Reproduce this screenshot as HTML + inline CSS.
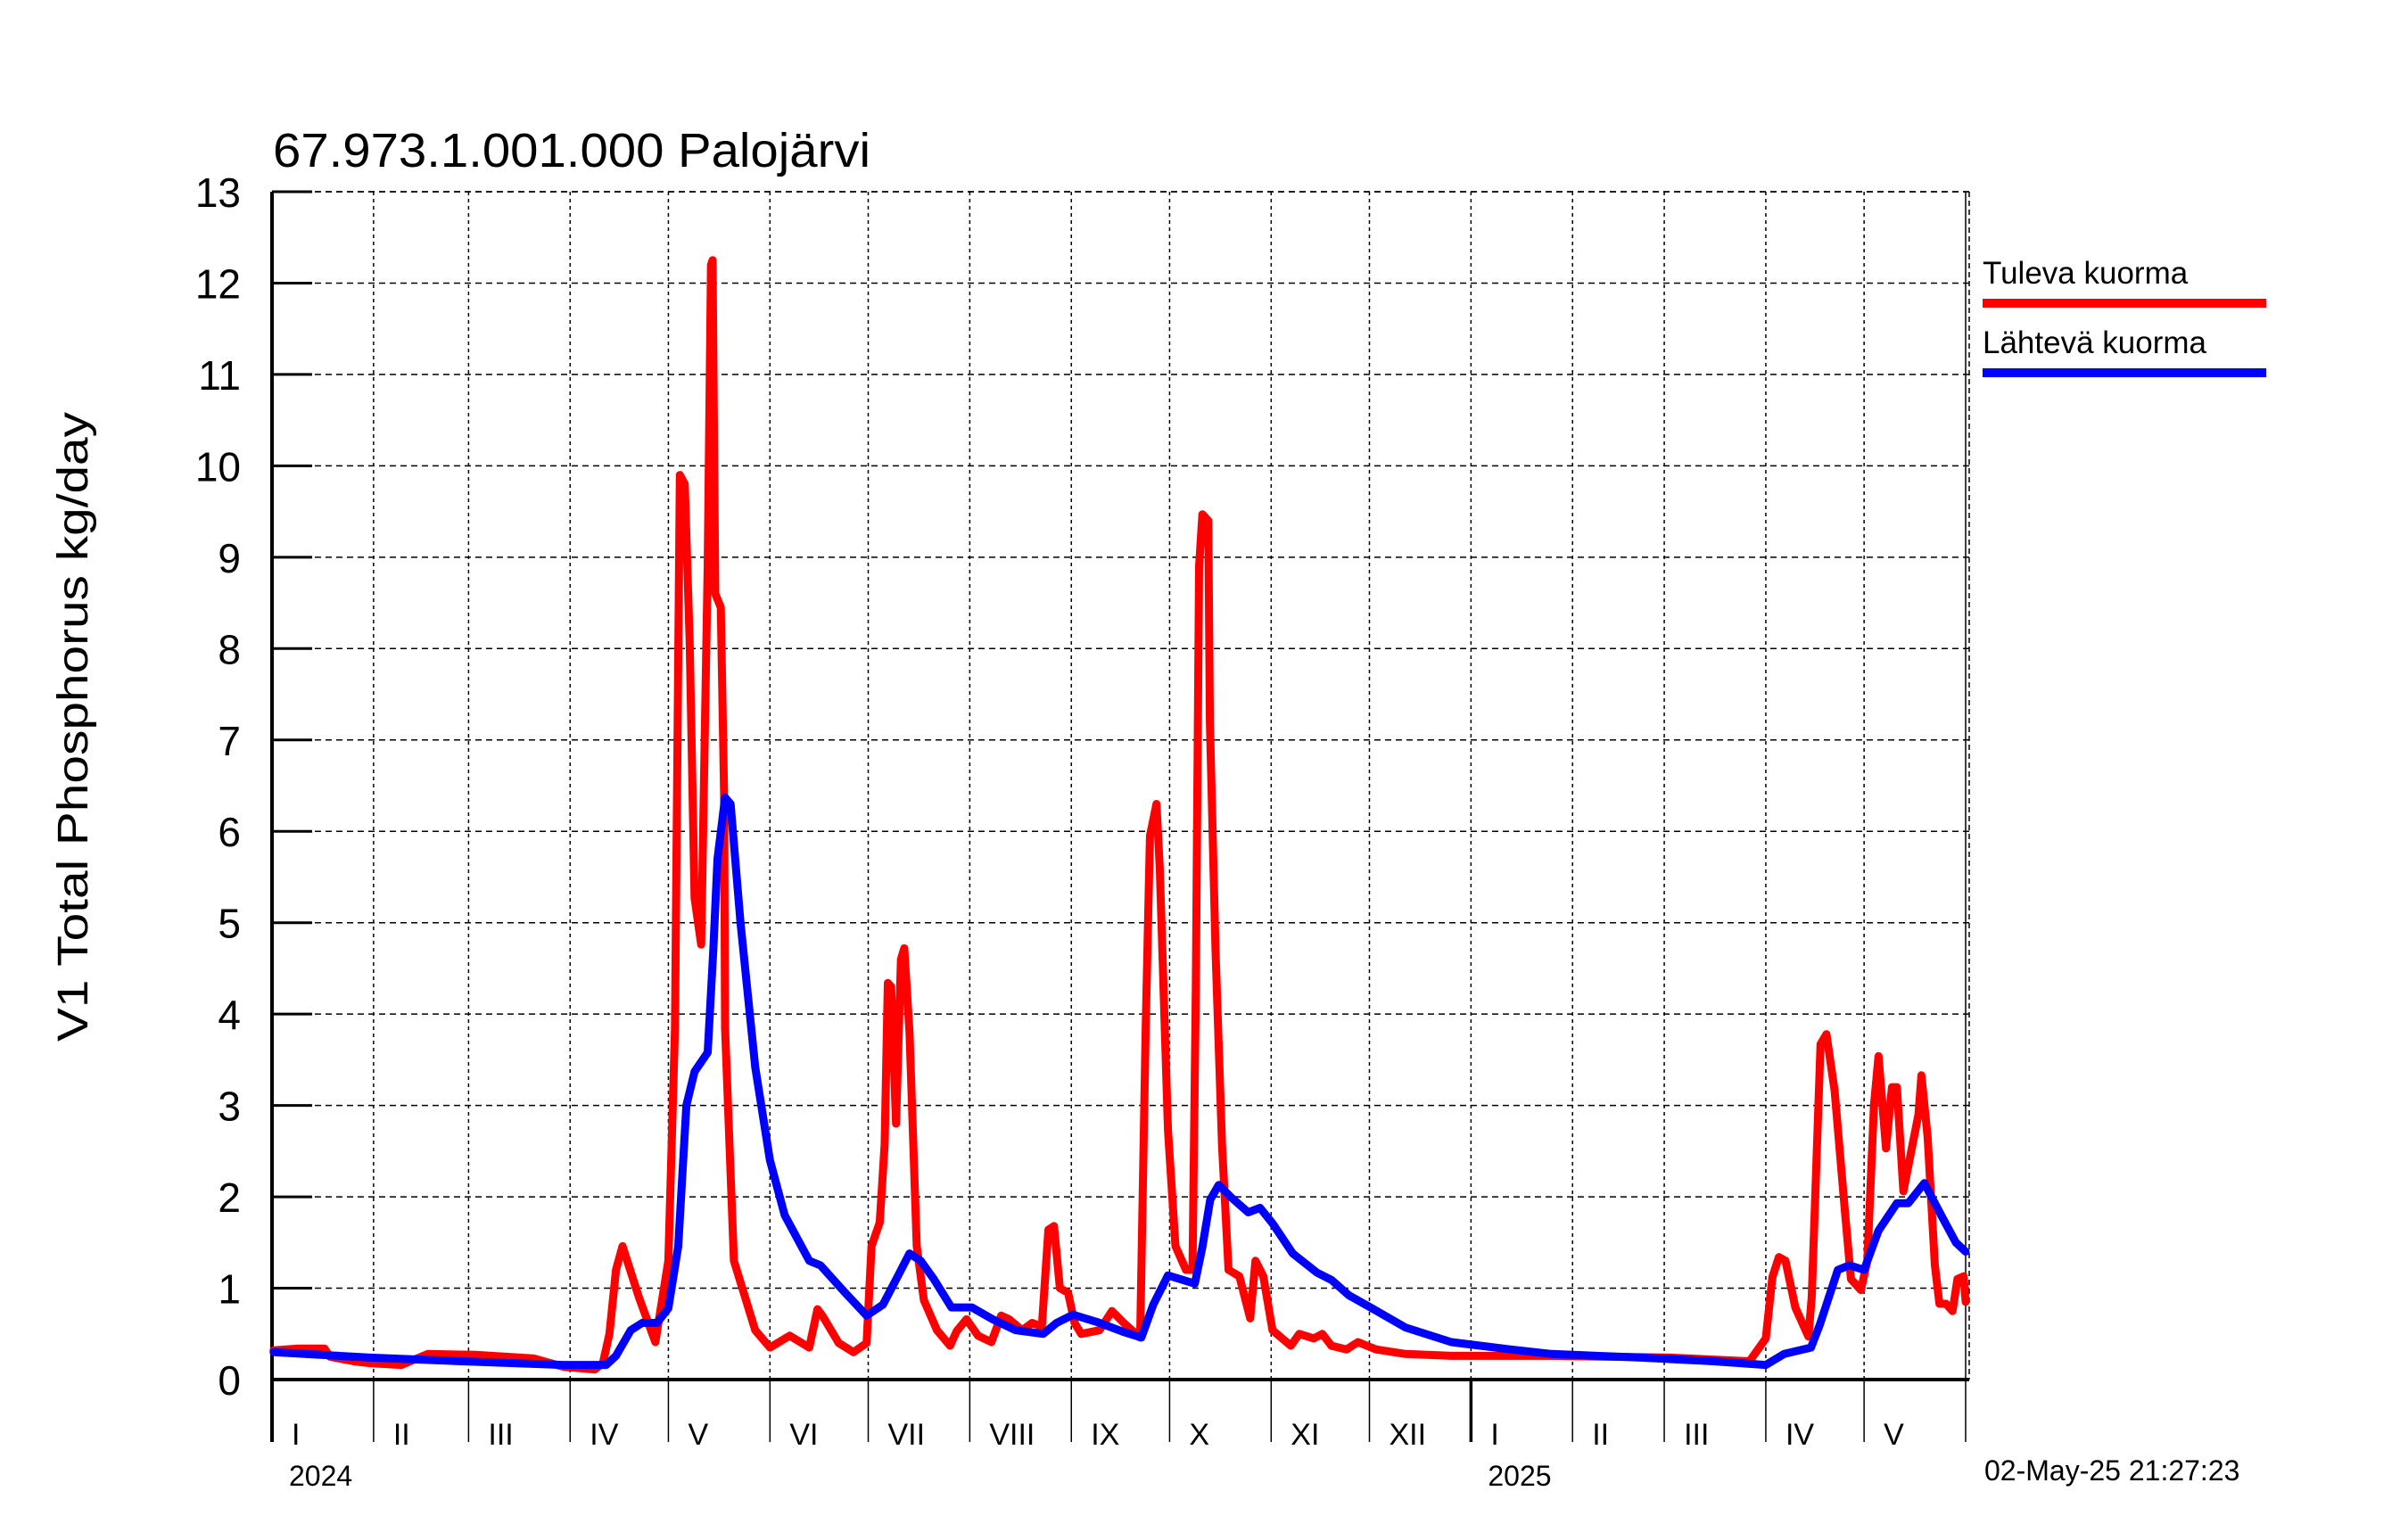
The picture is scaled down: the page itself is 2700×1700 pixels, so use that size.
<!DOCTYPE html>
<html>
<head>
<meta charset="utf-8">
<style>
  html,body{margin:0;padding:0;background:#fff;}
  svg{display:block;font-family:"Liberation Sans",Arial,sans-serif;}
</style>
</head>
<body>
<svg id="chart" width="2700" height="1700" viewBox="0 0 2700 1700" xmlns="http://www.w3.org/2000/svg">
  <rect x="0" y="0" width="2700" height="1700" fill="#fff"/>
  <g id="grid"></g>
  <g id="axes"></g>
  <g id="series"></g>
  <text x="306" y="187" font-size="54" textLength="670" lengthAdjust="spacingAndGlyphs">67.973.1.001.000 Palojärvi</text>
  <text transform="translate(98,815) rotate(-90)" text-anchor="middle" font-size="48" textLength="706" lengthAdjust="spacingAndGlyphs">V1 Total Phosphorus kg/day</text>
  <g>
    <text x="2223" y="318" font-size="35">Tuleva kuorma</text>
    <rect x="2223" y="335" width="318" height="10" fill="#ff0000"/>
    <text x="2223" y="396" font-size="35">Lähtevä kuorma</text>
    <rect x="2223" y="413" width="318" height="10" fill="#0000ff"/>
  </g>
  <text x="2225" y="1660" font-size="32">02-May-25 21:27:23</text>
</svg>
<script>
// ---- data (day index from 2024-01-01, value kg/day) ----
const yTicks = [0,1,2,3,4,5,6,7,8,9,10,11,12,13];
const monthStarts = [0,31,60,91,121,152,182,213,244,274,305,335,366,397,425,456,486];
const monthLabels = ["I","II","III","IV","V","VI","VII","VIII","IX","X","XI","XII","I","II","III","IV","V"];
const yearStarts = [0,366];
const yearLabels = ["2024","2025"];
const tulevaDays = [0.5,8,16,17.7,25,30,39.5,47.6,62,80,89,98.5,101,103,105,107,112,117,121,123,124.5,126,127.5,129,131,133,134,134.5,135.3,137,138,138.3,141,147.5,152,158,164,166.5,168,173,177.5,181.5,183,185.5,187,188,189,190.5,192,193,194.6,196.8,199,203,207,209,212,215.5,219.6,222.6,225,229,232,235,237,238.7,240.5,243,245,247,252.6,256.4,260,265,266.7,268,270,271,273.5,275.8,279,281,282,283,284,285.8,286.3,288,290,292,295.3,298.6,300.2,302.6,305.4,311,313.6,318,320.6,323.4,328,331.5,337,346,360,390,426.8,451,456,458,460,462,465,469,470,472.7,474.5,477,480,482,485,487,489,490.4,492.7,494.5,496,498,500.4,502.6,503.5,505.4,507.6,509,511,513,514.5,516.4,517];
const tulevaVals = [0.32,0.34,0.34,0.25,0.2,0.18,0.16,0.28,0.27,0.23,0.14,0.11,0.18,0.5,1.2,1.46,0.9,0.41,1.3,3.84,9.9,9.8,8.07,5.27,4.76,8.9,12.2,12.25,8.6,8.45,6.4,3.84,1.3,0.54,0.35,0.48,0.35,0.77,0.7,0.4,0.3,0.4,1.46,1.72,2.57,4.34,4.3,2.8,4.6,4.72,3.8,1.46,0.87,0.54,0.37,0.53,0.66,0.48,0.41,0.7,0.66,0.54,0.62,0.58,1.64,1.68,1.0,0.95,0.62,0.5,0.54,0.75,0.62,0.46,3.84,5.95,6.3,5.6,2.73,1.46,1.2,1.2,4.25,8.9,9.47,9.4,7.2,4.7,2.57,1.2,1.13,0.67,1.3,1.13,0.54,0.37,0.5,0.45,0.5,0.37,0.33,0.41,0.33,0.28,0.26,0.26,0.24,0.2,0.45,1.12,1.34,1.3,0.79,0.47,0.9,3.67,3.78,3.16,1.9,1.1,0.98,1.3,3.0,3.54,2.53,3.2,3.2,2.06,2.5,2.9,3.33,2.65,1.25,0.83,0.83,0.75,1.1,1.13,0.85];
const lahtevaDays = [0.5,30,58,89,102,105,109.5,113,117.5,121,124,126.5,129,133,134.7,136,138.3,140,143,147.5,152,156.5,164,167.4,174.7,181.5,186.5,191,194.6,198,202,207.4,213.6,220,227,235.4,239.5,244.5,251.8,260,265.4,269,273.5,281.7,284,286.4,289,292.6,298,301.6,305.4,311.6,319,323.4,328.8,335.3,346,360,378,390.6,418,440,456,461.6,469.8,472.5,478,481.5,486,490.4,496,499.5,504.4,509.5,514,517];
const lahtevaVals = [0.3,0.24,0.2,0.16,0.16,0.26,0.54,0.62,0.62,0.78,1.46,3.0,3.37,3.58,4.7,5.7,6.37,6.3,5.0,3.42,2.4,1.8,1.3,1.25,0.96,0.7,0.82,1.13,1.38,1.3,1.1,0.79,0.79,0.66,0.54,0.5,0.62,0.71,0.63,0.52,0.46,0.82,1.14,1.05,1.45,1.97,2.13,2.0,1.83,1.88,1.71,1.38,1.17,1.09,0.92,0.79,0.57,0.41,0.33,0.28,0.24,0.2,0.16,0.28,0.35,0.6,1.2,1.25,1.2,1.63,1.93,1.93,2.15,1.8,1.5,1.4];

// ---- scales ----
const X0 = 305, X1 = 2204, DAY_MAX = 517;
const Y0 = 1547, Y1 = 215, VMAX = 13;
function xScale(d){ return X0 + (d / DAY_MAX) * (X1 - X0); }
function yScale(v){ return Y0 - (v / VMAX) * (Y0 - Y1); }
const NS = "http://www.w3.org/2000/svg";
function mk(tag, attrs, parent){
  const el = document.createElementNS(NS, tag);
  for (const k in attrs) el.setAttribute(k, attrs[k]);
  parent.appendChild(el);
  return el;
}
const grid = document.getElementById('grid');
const axes = document.getElementById('axes');
const series = document.getElementById('series');

// horizontal grid + ticks + labels
yTicks.forEach(function(v){
  const y = yScale(v);
  if (v > 0) {
    const g = mk('line', {x1:X0, x2:X1+4, y1:y, y2:y, stroke:'#000', 'stroke-width':1.5, 'stroke-dasharray':'7,5'}, grid);
    
    
  }
  const t = mk('line', {x1:X0, x2:X0+45, y1:y, y2:y, stroke:'#000', 'stroke-width':3}, axes);
  
  
  const lb = mk('text', {x:270, y:y+17, 'text-anchor':'end', 'font-size':46}, axes);
  lb.textContent = String(v);
  
  
});

// vertical month grid + ticks + labels
monthStarts.forEach(function(d, i){
  const x = xScale(d);
  if (d > 0) {
    const g = mk('line', {x1:x, x2:x, y1:Y1, y2:Y0, stroke:'#000', 'stroke-width':1.5, 'stroke-dasharray':'4,4'}, grid);
    
    
  }
  const isYear = yearStarts.indexOf(d) >= 0 && d > 0;
  const t = mk('line', {x1:x, x2:x, y1:Y0, y2:1617, stroke:'#000', 'stroke-width': isYear ? 3.5 : 1.5}, axes);
  
  
  const lb = mk('text', {x:x+22, y:1620, 'font-size':34}, axes);
  lb.textContent = monthLabels[i];
  
  
});
yearStarts.forEach(function(d, i){
  const lb = mk('text', {x:xScale(d)+19, y:1666, 'font-size':32}, axes);
  lb.textContent = yearLabels[i];
  
  
});

// right border, top grid line, end tick
const rb1 = mk('line', {x1:X1, x2:X1, y1:Y1, y2:1617, stroke:'#000', 'stroke-width':1.5}, axes);


const rb2 = mk('line', {x1:X1+4, x2:X1+4, y1:Y1, y2:Y0, stroke:'#000', 'stroke-width':1.5, 'stroke-dasharray':'6,4'}, grid);


const tg = mk('line', {x1:X0, x2:X1+4, y1:Y1, y2:Y1, stroke:'#000', 'stroke-width':1.5, 'stroke-dasharray':'7,5'}, grid);



// axes lines
const yl = mk('line', {x1:X0, x2:X0, y1:Y1, y2:1617, stroke:'#000', 'stroke-width':4}, axes);


const xl = mk('line', {x1:X0, x2:X1+4, y1:Y0, y2:Y0, stroke:'#000', 'stroke-width':4}, axes);



// series
function drawLine(days, vals, color, name){
  const pts = days.map(function(d, i){ return xScale(d).toFixed(1) + ',' + yScale(vals[i]).toFixed(1); });
  const pl = mk('polyline', {points: pts.join(' '), fill:'none', stroke:color, 'stroke-width':9, 'stroke-linejoin':'round', 'stroke-linecap':'round'}, series);
  
  
}
drawLine(tulevaDays, tulevaVals, '#ff0000', 'tuleva-kuorma-line');
drawLine(lahtevaDays, lahtevaVals, '#0000ff', 'lahteva-kuorma-line');
</script>
</body>
</html>
